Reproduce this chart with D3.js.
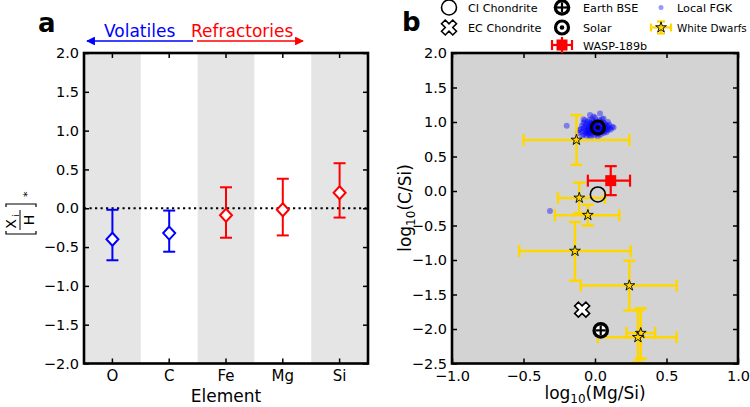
<!DOCTYPE html>
<html><head><meta charset="utf-8">
<script src="https://cdn.jsdelivr.net/npm/d3@7"></script>
<style>body{margin:0;background:#fff;} svg{display:block;font-family:"DejaVu Sans",sans-serif;}</style>
</head><body><svg id="c" width="750" height="407"></svg>
<script>
// ---------- Panel a data ----------
const elements = ["O","C","Fe","Mg","Si"];
const abundance = [-0.40,-0.32,-0.09,-0.02,0.20];
const abundLow  = [-0.67,-0.56,-0.38,-0.35,-0.12];
const abundHigh = [-0.02,-0.03,0.27,0.38,0.58];
const elementGroup = ["Volatiles","Volatiles","Refractories","Refractories","Refractories"];
const yTicksA = [-2,-1.5,-1,-0.5,0,0.5,1,1.5,2];

// ---------- Panel b data ----------
const xTicksB = [-1,-0.5,0,0.5,1];
const yTicksB = [-2.5,-2,-1.5,-1,-0.5,0,0.5,1,1.5,2];
// White dwarfs
const wdMgSi   = [-0.13,-0.11,-0.05,-0.14,0.24,0.32,0.30];
const wdCSi    = [0.74,-0.10,-0.35,-0.87,-1.37,-2.06,-2.12];
const wdMgSiLo = [-0.50,-0.26,-0.28,-0.53,-0.10,0.22,0.02];
const wdMgSiHi = [0.24,0.07,0.17,0.25,0.57,0.42,0.57];
const wdCSiLo  = [0.38,-0.32,-0.50,-1.30,-1.73,-2.43,-2.48];
const wdCSiHi  = [1.10,0.12,-0.20,-0.45,-1.01,-1.70,-1.73];
// WASP-189b
const waspMgSi = [0.11], waspCSi = [0.15];
const waspMgSiLo = [-0.05], waspMgSiHi = [0.245];
const waspCSiLo = [-0.06], waspCSiHi = [0.36];
// Reference bodies
const refNames = ["CI Chondrite","EC Chondrite","Earth BSE","Solar"];
const refMgSi  = [0.02,-0.09,0.04,0.02];
const refCSi   = [-0.05,-1.72,-2.02,0.92];
// Local FGK stars
const fgkMgSi = [-0.10,-0.09,-0.09,-0.08,-0.08,-0.08,-0.07,-0.07,-0.07,-0.06,-0.06,-0.06,-0.06,-0.05,-0.05,-0.05,-0.05,-0.04,-0.04,-0.04,-0.04,-0.04,-0.03,-0.03,-0.03,-0.03,-0.02,-0.02,-0.02,-0.02,-0.02,-0.01,-0.01,-0.01,-0.01,0.00,0.00,0.00,0.00,0.00,0.01,0.01,0.01,0.01,0.02,0.02,0.02,0.02,0.03,0.03,0.03,0.03,0.04,0.04,0.04,0.04,0.05,0.05,0.05,0.06,0.06,0.06,0.06,0.07,0.07,0.07,0.08,0.08,0.08,0.09,0.09,0.10,0.10,0.11,0.12,0.13,-0.11,-0.12,-0.09,-0.03,0.02,0.05,-0.01,0.06,0.09,-0.08,-0.035,0.035,-0.198,-0.315,-0.05,0.03,0.00,-0.02,0.04,0.01];
const fgkCSi  = [0.90,0.86,0.95,0.82,0.91,0.99,0.87,0.94,1.02,0.80,0.84,0.90,0.97,0.83,0.88,0.93,1.00,0.81,0.86,0.91,0.96,1.03,0.84,0.89,0.94,0.99,0.82,0.87,0.92,0.97,1.04,0.85,0.90,0.95,1.00,0.81,0.88,0.93,0.98,1.06,0.84,0.89,0.96,1.01,0.83,0.87,0.94,0.99,0.85,0.91,0.97,1.03,0.82,0.88,0.93,1.00,0.86,0.90,0.96,0.84,0.89,0.94,0.99,0.87,0.92,0.97,0.85,0.90,0.95,0.88,0.93,0.91,0.96,0.89,0.93,0.92,0.88,0.84,0.80,0.78,0.79,1.04,1.08,1.05,1.00,1.04,1.10,1.125,0.945,-0.29,0.86,0.88,0.90,0.95,0.91,0.93];

const svg = d3.select("#c");
const FONT = '"DejaVu Sans", sans-serif';
const colorOf = g => g === "Volatiles" ? "#0000ff" : "#ff0000";

function styleAxis(g, fs){
  g.select(".domain").remove();
  g.selectAll(".tick line").attr("stroke","#000").attr("stroke-width",1.5);
  g.selectAll(".tick text").attr("fill","#000").attr("font-size",fs).attr("font-family",FONT);
}

// ================= Panel a =================
const A = {l:84, r:368, t:53, b:363.5};
const xA = d3.scaleBand().domain(elements).range([A.l, A.r]);
const yA = d3.scaleLinear().domain([-2,2]).range([A.b, A.t]);
const gA = svg.append("g");

gA.selectAll("rect.band").data(elements.filter((d,i)=>i%2===0)).join("rect")
  .attr("x", d=>xA(d)).attr("y", A.t).attr("width", xA.bandwidth()).attr("height", A.b-A.t)
  .attr("fill","#e5e5e5");

gA.append("line").attr("x1",A.l).attr("x2",A.r).attr("y1",yA(0)).attr("y2",yA(0))
  .attr("stroke","#000").attr("stroke-width",2.2).attr("stroke-dasharray","2.2,3.3");

const ptsA = elements.map((e,i)=>({e, v:abundance[i], lo:abundLow[i], hi:abundHigh[i], c:colorOf(elementGroup[i])}));
const eb = gA.selectAll("g.eb").data(ptsA).join("g")
  .attr("transform", d=>`translate(${xA(d.e)+xA.bandwidth()/2},0)`);
eb.append("line").attr("x1",0).attr("x2",0).attr("y1",d=>yA(d.lo)).attr("y2",d=>yA(d.hi))
  .attr("stroke",d=>d.c).attr("stroke-width",2);
eb.append("line").attr("x1",-6).attr("x2",6).attr("y1",d=>yA(d.lo)).attr("y2",d=>yA(d.lo))
  .attr("stroke",d=>d.c).attr("stroke-width",2);
eb.append("line").attr("x1",-6).attr("x2",6).attr("y1",d=>yA(d.hi)).attr("y2",d=>yA(d.hi))
  .attr("stroke",d=>d.c).attr("stroke-width",2);
eb.append("path").attr("d","M0,-6.5L6,0L0,6.5L-6,0Z")
  .attr("transform",d=>`translate(0,${yA(d.v)})`)
  .attr("fill","#fff").attr("stroke",d=>d.c).attr("stroke-width",2);

styleAxis(gA.append("g").attr("transform",`translate(${A.l},0)`)
  .call(d3.axisLeft(yA).tickValues(yTicksA).tickSize(-5).tickPadding(5).tickFormat(d3.format(".1f"))), 14.5);
styleAxis(gA.append("g").attr("transform",`translate(${A.r},0)`)
  .call(d3.axisRight(yA).tickValues(yTicksA).tickSize(-5).tickFormat("")), 14.5);
styleAxis(gA.append("g").attr("transform",`translate(0,${A.b})`)
  .call(d3.axisBottom(xA).tickSize(-5).tickPadding(7)), 15);
styleAxis(gA.append("g").attr("transform",`translate(0,${A.t})`)
  .call(d3.axisTop(xA).tickSize(-5).tickFormat("")), 15);
gA.append("rect").attr("x",A.l).attr("y",A.t).attr("width",A.r-A.l).attr("height",A.b-A.t)
  .attr("fill","none").attr("stroke","#000").attr("stroke-width",2.6);

gA.append("text").attr("x",(A.l+A.r)/2).attr("y",402).attr("text-anchor","middle")
  .attr("font-size",17).attr("font-family",FONT).text("Element");
gA.append("text").attr("x",38).attr("y",32).attr("font-size",26).attr("font-weight","bold")
  .attr("font-family",FONT).text("a");

// header arrows
const defs = svg.append("defs");
[["ahB","#0000ff"],["ahR","#ff0000"]].forEach(([id,c])=>{
  defs.append("marker").attr("id",id).attr("viewBox","0 0 10 10").attr("refX",9).attr("refY",5)
    .attr("markerWidth",5.5).attr("markerHeight",5.5).attr("orient","auto-start-reverse")
    .attr("markerUnits","strokeWidth")
    .append("path").attr("d","M0,0L10,5L0,10Z").attr("fill",c);
});
gA.append("line").attr("x1",193).attr("x2",87).attr("y1",41).attr("y2",41)
  .attr("stroke","#0000ff").attr("stroke-width",1.6).attr("marker-end","url(#ahB)");
gA.append("line").attr("x1",197).attr("x2",303).attr("y1",41).attr("y2",41)
  .attr("stroke","#ff0000").attr("stroke-width",1.6).attr("marker-end","url(#ahR)");
gA.append("text").attr("x",104).attr("y",37).attr("font-size",17).attr("fill","#0000ff")
  .attr("font-family",FONT).text("Volatiles");
gA.append("text").attr("x",191).attr("y",37).attr("font-size",17).attr("fill","#ff0000")
  .attr("font-family",FONT).text("Refractories");

// y label [X_i / H]_*
const yl = gA.append("g").attr("transform","translate(21,214) rotate(-90)");
yl.append("path").attr("d","M-17,-15H-20V15H-17").attr("fill","none").attr("stroke","#000").attr("stroke-width",1.2);
yl.append("path").attr("d","M7,-15H10V15H7").attr("fill","none").attr("stroke","#000").attr("stroke-width",1.2);
yl.append("line").attr("x1",-16).attr("x2",4).attr("y1",-1).attr("y2",-1).attr("stroke","#000").attr("stroke-width",1);
yl.append("text").attr("x",-10).attr("y",-5).attr("text-anchor","middle").attr("font-size",14).attr("font-family",FONT).text("X");
yl.append("text").attr("x",-1.5).attr("y",-2.5).attr("text-anchor","middle").attr("font-size",9.5).attr("font-family",FONT).text("i");
yl.append("text").attr("x",-6).attr("y",13).attr("text-anchor","middle").attr("font-size",14).attr("font-family",FONT).text("H");
yl.append("text").attr("x",17).attr("y",10).attr("font-size",11).attr("font-family",FONT).text("*");

// ================= Panel b =================
const B = {l:452, r:738, t:53, b:363.5};
const xB = d3.scaleLinear().domain([-1,1]).range([B.l,B.r]);
const yB = d3.scaleLinear().domain([-2.5,2]).range([B.b,B.t]);
const gB = svg.append("g");
gB.append("rect").attr("x",B.l).attr("y",B.t).attr("width",B.r-B.l).attr("height",B.b-B.t).attr("fill","#d3d3d3");

// FGK stars
gB.selectAll("circle.fgk").data(fgkMgSi.map((x,i)=>[x,fgkCSi[i]])).join("circle")
  .attr("cx",d=>xB(d[0])).attr("cy",d=>yB(d[1])).attr("r",3)
  .attr("fill","#0000ff").attr("fill-opacity",0.4);

// error bar helper
function errBar(g, x, y, xlo, xhi, ylo, yhi, color, w, cap){
  const s = g.append("g").attr("stroke",color).attr("stroke-width",w);
  s.append("line").attr("x1",xB(xlo)).attr("x2",xB(xhi)).attr("y1",yB(y)).attr("y2",yB(y));
  s.append("line").attr("x1",xB(x)).attr("x2",xB(x)).attr("y1",yB(ylo)).attr("y2",yB(yhi));
  [xlo,xhi].forEach(v=>s.append("line").attr("x1",xB(v)).attr("x2",xB(v)).attr("y1",yB(y)-cap).attr("y2",yB(y)+cap));
  [ylo,yhi].forEach(v=>s.append("line").attr("y1",yB(v)).attr("y2",yB(v)).attr("x1",xB(x)-cap).attr("x2",xB(x)+cap));
}
const starPath = d3.symbol(d3.symbolStar, 36)();
const crossPath = d3.symbol(d3.symbolCross, 140)();

wdMgSi.forEach((x,i)=>errBar(gB, x, wdCSi[i], wdMgSiLo[i], wdMgSiHi[i], wdCSiLo[i], wdCSiHi[i], "#ffd700", 2.5, 6));
gB.selectAll("path.wd").data(wdMgSi.map((x,i)=>[x,wdCSi[i]])).join("path")
  .attr("d",starPath).attr("transform",d=>`translate(${xB(d[0])},${yB(d[1])})`)
  .attr("fill","#ffd700").attr("stroke","#000").attr("stroke-width",0.9);

errBar(gB, waspMgSi[0], waspCSi[0], waspMgSiLo[0], waspMgSiHi[0], waspCSiLo[0], waspCSiHi[0], "#ff0000", 2.2, 6);
gB.selectAll("rect.wasp").data(waspMgSi.map((x,i)=>[x,waspCSi[i]])).join("rect")
  .attr("x",d=>xB(d[0])-5.5).attr("y",d=>yB(d[1])-5.5).attr("width",11).attr("height",11).attr("fill","#ff0000");

// marker drawers
function drawCI(g,x,y){ g.append("circle").attr("cx",x).attr("cy",y).attr("r",7.5).attr("fill","none").attr("stroke","#000").attr("stroke-width",1.6); }
function drawEC(g,x,y){ g.append("path").attr("d",crossPath).attr("transform",`translate(${x},${y}) rotate(45)`).attr("fill","#fff").attr("stroke","#000").attr("stroke-width",1.6); }
function drawEarth(g,x,y){
  g.append("circle").attr("cx",x).attr("cy",y).attr("r",8.3).attr("fill","#000");
  g.append("circle").attr("cx",x).attr("cy",y).attr("r",5).attr("fill","#fff");
  g.append("line").attr("x1",x-5).attr("x2",x+5).attr("y1",y).attr("y2",y).attr("stroke","#000").attr("stroke-width",2.2);
  g.append("line").attr("x1",x).attr("x2",x).attr("y1",y-5).attr("y2",y+5).attr("stroke","#000").attr("stroke-width",2.2);
}
function drawSolar(g,x,y,fill){
  g.append("circle").attr("cx",x).attr("cy",y).attr("r",6.5).attr("fill",fill).attr("stroke","#000").attr("stroke-width",3.2);
  g.append("circle").attr("cx",x).attr("cy",y).attr("r",2.3).attr("fill","#000");
}
const drawers = {"CI Chondrite":drawCI,"EC Chondrite":drawEC,"Earth BSE":drawEarth,"Solar":(g,x,y)=>drawSolar(g,x,y,"none")};
refNames.forEach((n,i)=>drawers[n](gB, xB(refMgSi[i]), yB(refCSi[i])));

// axes b
styleAxis(gB.append("g").attr("transform",`translate(${B.l},0)`)
  .call(d3.axisLeft(yB).tickValues(yTicksB).tickSize(-5).tickPadding(5).tickFormat(d3.format(".1f"))), 14.5);
styleAxis(gB.append("g").attr("transform",`translate(${B.r},0)`)
  .call(d3.axisRight(yB).tickValues(yTicksB).tickSize(-5).tickFormat("")), 14.5);
styleAxis(gB.append("g").attr("transform",`translate(0,${B.b})`)
  .call(d3.axisBottom(xB).tickValues(xTicksB).tickSize(-5).tickPadding(7).tickFormat(d3.format(".1f"))), 14.5);
styleAxis(gB.append("g").attr("transform",`translate(0,${B.t})`)
  .call(d3.axisTop(xB).tickValues(xTicksB).tickSize(-5).tickFormat("")), 14.5);
gB.append("rect").attr("x",B.l).attr("y",B.t).attr("width",B.r-B.l).attr("height",B.b-B.t)
  .attr("fill","none").attr("stroke","#000").attr("stroke-width",2.6);

const xl = gB.append("text").attr("x",(B.l+B.r)/2).attr("y",399).attr("text-anchor","middle")
  .attr("font-size",17).attr("font-family",FONT);
xl.append("tspan").text("log");
xl.append("tspan").attr("font-size",12).attr("dy",3.5).text("10");
xl.append("tspan").attr("dy",-3.5).text("(Mg/Si)");
const ylb = gB.append("text").attr("transform","translate(411,208) rotate(-90)").attr("text-anchor","middle")
  .attr("font-size",17).attr("font-family",FONT);
ylb.append("tspan").text("log");
ylb.append("tspan").attr("font-size",12).attr("dy",3.5).text("10");
ylb.append("tspan").attr("dy",-3.5).text("(C/Si)");
gB.append("text").attr("x",402).attr("y",31).attr("font-size",26).attr("font-weight","bold")
  .attr("font-family",FONT).text("b");

// legend
const legNames = ["CI Chondrite","EC Chondrite","Earth BSE","Solar","WASP-189b","Local FGK","White Dwarfs"];
const legPos = [[449,7.5],[449,27.5],[562,7.5],[562,27.5],[562,45],[661,7.5],[661,27.5]];
const legTextX = [468,468,583,583,583,677,677];
const gL = svg.append("g");
legNames.forEach((n,i)=>{
  const [x,y] = legPos[i];
  if (n==="CI Chondrite") drawCI(gL,x,y);
  else if (n==="EC Chondrite") drawEC(gL,x,y);
  else if (n==="Earth BSE") drawEarth(gL,x,y);
  else if (n==="Solar") drawSolar(gL,x,y,"#fff");
  else if (n==="WASP-189b"){
    const s = gL.append("g").attr("stroke","#ff0000").attr("stroke-width",2.2);
    s.append("line").attr("x1",x-10).attr("x2",x+10).attr("y1",y).attr("y2",y);
    s.append("line").attr("x1",x-10).attr("x2",x-10).attr("y1",y-5).attr("y2",y+5);
    s.append("line").attr("x1",x+10).attr("x2",x+10).attr("y1",y-5).attr("y2",y+5);
    s.append("line").attr("x1",x).attr("x2",x).attr("y1",y-8).attr("y2",y+8);
    gL.append("rect").attr("x",x-5.5).attr("y",y-5.5).attr("width",11).attr("height",11).attr("fill","#ff0000");
  } else if (n==="Local FGK"){
    gL.append("circle").attr("cx",x).attr("cy",y).attr("r",2.5).attr("fill","#0000ff").attr("fill-opacity",0.4);
  } else {
    const s = gL.append("g").attr("stroke","#ffd700").attr("stroke-width",2.2);
    s.append("line").attr("x1",x-10).attr("x2",x+10).attr("y1",y).attr("y2",y);
    s.append("line").attr("x1",x).attr("x2",x).attr("y1",y-6).attr("y2",y+6);
    s.append("line").attr("x1",x-10).attr("x2",x-10).attr("y1",y-4).attr("y2",y+4);
    s.append("line").attr("x1",x+10).attr("x2",x+10).attr("y1",y-4).attr("y2",y+4);
    s.append("line").attr("x1",x-4).attr("x2",x+4).attr("y1",y-6).attr("y2",y-6);
    s.append("line").attr("x1",x-4).attr("x2",x+4).attr("y1",y+6).attr("y2",y+6);
    gL.append("path").attr("d",starPath).attr("transform",`translate(${x},${y})`)
      .attr("fill","#ffd700").attr("stroke","#000").attr("stroke-width",0.9);
  }
  gL.append("text").attr("x",legTextX[i]).attr("y",y+4.5)
    .attr("font-size",n==="White Dwarfs" ? 10.4 : 11.2).attr("font-family",FONT).text(n);
});
</script></body></html>
